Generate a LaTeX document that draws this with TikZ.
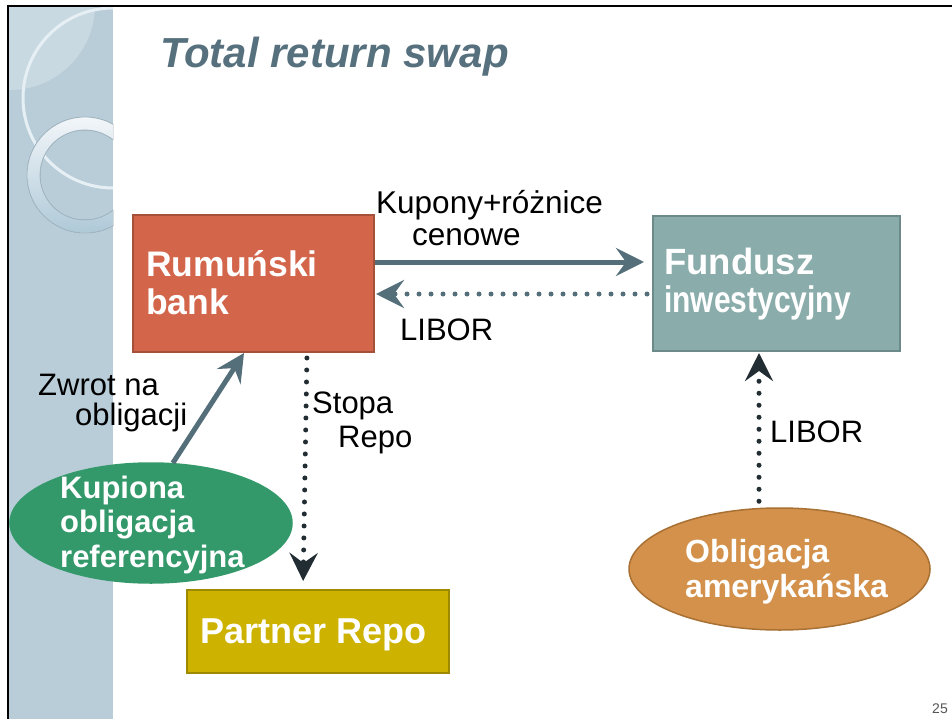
\documentclass[tikz,border=0pt]{standalone}
\usepackage{fontspec}
\setmainfont{Liberation Sans}
\newfontfamily\narrowfont[FakeStretch=0.81]{Liberation Sans}
\usetikzlibrary{arrows.meta,shapes.geometric}
\definecolor{titlec}{HTML}{56707E}
\definecolor{rbfill}{HTML}{D2654A}
\definecolor{rbdraw}{HTML}{A4503A}
\definecolor{fifill}{HTML}{8AADAB}
\definecolor{fidraw}{HTML}{6C8A89}
\definecolor{prfill}{HTML}{CDB300}
\definecolor{prdraw}{HTML}{9E8A00}
\definecolor{grfill}{HTML}{34996A}
\definecolor{orfill}{HTML}{D3914B}
\definecolor{ordraw}{HTML}{A87033}
\definecolor{slate}{HTML}{546E7A}
\definecolor{darkdot}{HTML}{222D33}
\definecolor{stripc}{HTML}{B9CDD9}
\definecolor{stripl}{HTML}{C9D9E2}
\definecolor{arcc}{HTML}{E6EFF4}
\definecolor{ringtop}{HTML}{F2F6F9}
\definecolor{ringbot}{HTML}{AFC9D8}
\definecolor{ringline}{HTML}{A3B7C2}
\definecolor{pagenum}{HTML}{555555}
\begin{document}
\begin{tikzpicture}[x=1pt,y=-1pt,
  boxshape/.style={rectangle, line width=2pt, inner sep=0pt},
  ellshape/.style={ellipse, line width=1.5pt, inner sep=0pt},
  wtxt/.style={text=white, inner sep=0pt, anchor=base west, align=left},
  lbl/.style={text=black, inner sep=0pt, anchor=base west, align=left},
  headtip/.style={-{Stealth[length=28pt,width=28pt,inset=10pt]}},
  solidarrow/.style={draw=slate, line width=5pt, headtip},
  dotarrow/.style={line width=5pt, line cap=round, dash pattern=on 0pt off 12pt, headtip}
]
\useasboundingbox (0,0) rectangle (952,719);
% left strip
\fill[stripc] (9,7) rectangle (113,719);
\begin{scope}
  \clip (9,7) rectangle (113,719);
  \fill[stripl] (10,5) circle (85);
  \draw[arcc, line width=3pt] (113,98) circle (90);
  \fill[top color=ringtop, bottom color=ringbot, even odd rule] (85,175) circle (58) (85,175) circle (45);
  \draw[ringline, line width=0.8pt] (85,175) circle (58) (85,175) circle (45);
\end{scope}
% frame
\draw[line width=2.5pt] (8,719) -- (8,6) -- (952,6);
% title
\node[text=titlec, inner sep=0pt, anchor=base west, font=\fontsize{42}{50}\selectfont\bfseries\itshape] (title) at (160,68) {Total return swap};
% boxes
\node[boxshape, fill=rbfill, draw=rbdraw, minimum width=241pt, minimum height=137pt] (rb) at (253.5,283.5) {};
\node[boxshape, fill=fifill, draw=fidraw, minimum width=247pt, minimum height=135pt] (fi) at (776.5,283.5) {};
\node[boxshape, fill=prfill, draw=prdraw, minimum width=262pt, minimum height=83pt] (pr) at (318,631.5) {};
\node[ellshape, fill=grfill, draw=grfill, minimum width=282pt, minimum height=120pt] (kb) at (151,523) {};
\node[ellshape, fill=orfill, draw=ordraw, minimum width=301pt, minimum height=122pt] (ob) at (779.5,569) {};
% box texts (base anchor = baseline of the last line)
\node[wtxt, font=\fontsize{35.5}{38}\selectfont\bfseries] (rbt) at (146,314) {Rumuński\\bank};
\node[wtxt, font=\fontsize{36.5}{38}\selectfont\bfseries] (fit1) at (664,274) {Fundusz};
\node[wtxt, font=\fontsize{37}{38}\narrowfont\bfseries] (fit2) at (664,312) {inwestycyjny};
\node[wtxt, font=\fontsize{36}{38}\selectfont\bfseries] (prt) at (200,643) {Partner Repo};
\node[wtxt, font=\fontsize{31}{34.5}\selectfont\bfseries] (kbt) at (60,567) {Kupiona\\obligacja\\referencyjna};
\node[wtxt, font=\fontsize{32}{35}\selectfont\bfseries] (obt) at (685,597) {Obligacja\\amerykańska};
% labels
\node[lbl, font=\fontsize{31.5}{32}\selectfont] (l1) at (376,245) {Kupony+różnice\\\hspace*{36pt}cenowe};
\node[lbl, font=\fontsize{31}{33}\selectfont] (l2) at (400,340) {LIBOR};
\node[lbl, font=\fontsize{31}{30}\selectfont] (l3) at (38,425) {Zwrot na\\\hspace*{37pt}obligacji};
\node[lbl, font=\fontsize{31}{34}\selectfont] (l4) at (312,447) {Stopa\\\hspace*{26pt}Repo};
\node[lbl, font=\fontsize{31}{33}\selectfont] (l5) at (770,442) {LIBOR};
\node[text=pagenum, inner sep=0pt, anchor=base east, font=\fontsize{14}{16}\selectfont] (pg) at (948,713) {25};
% connectors
\draw[solidarrow, shorten >=8pt] ([yshift=21.5pt]rb.east) -- ([yshift=21.5pt]fi.west);
\draw[dotarrow, draw=slate, shorten <=5pt, shorten >=1pt] ([yshift=-10.5pt]fi.west) -- ([yshift=-10.5pt]rb.east);
\draw[solidarrow] (kb.70) -- ([xshift=-9.5pt]rb.south);
\draw[dotarrow, draw=darkdot, shorten <=5pt, shorten >=8pt] ([xshift=53.5pt]rb.south) -- ([xshift=-15pt]pr.north);
\draw[dotarrow, draw=darkdot, shorten >=1pt] ([xshift=-20.5pt,yshift=6pt]ob.north) -- ([xshift=-17.5pt]fi.south);
\end{tikzpicture}
\end{document}
